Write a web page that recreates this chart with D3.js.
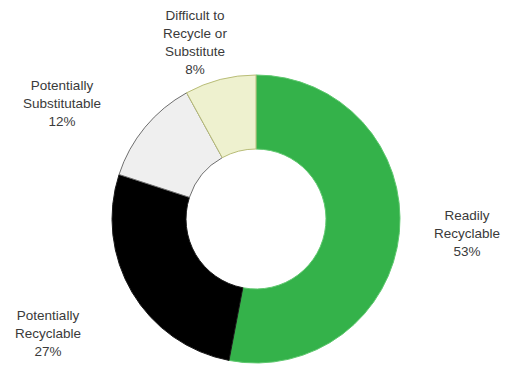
<!DOCTYPE html>
<html>
<head>
<meta charset="utf-8">
<script src="https://cdn.jsdelivr.net/npm/d3@7"></script>
<style>
  html, body { margin: 0; padding: 0; background: #fff; }
  svg { display: block; }
  text { font-family: "Liberation Sans", Arial, sans-serif; font-size: 13.5px; fill: #3a3a3a; }
</style>
</head>
<body>
<svg id="chart" width="506" height="365"></svg>
<script>
// Share of material by end-of-life category (percent)
const categories = ["Readily Recyclable", "Potentially Recyclable", "Potentially Substitutable", "Difficult to Recycle or Substitute"];
const values = [53, 27, 12, 8];
const labelLines = [
  ["Readily", "Recyclable"],
  ["Potentially", "Recyclable"],
  ["Potentially", "Substitutable"],
  ["Difficult to", "Recycle or", "Substitute"]
];
const fills = ["#34b24a", "#000000", "#efefef", "#eef1cf"];
const strokes = ["#5ec86e", "#1a1a1a", "#6f6f6f", "#b9bd78"];

const width = 506, height = 365;
const cx = 256, cy = 219;
const outerR = 144, innerR = 70;

const svg = d3.select("#chart");
const g = svg.append("g").attr("transform", `translate(${cx},${cy})`);

const pie = d3.pie().value(d => d).sort(null);
const arcs = pie(values);
const arc = d3.arc().innerRadius(innerR).outerRadius(outerR);

g.selectAll("path.slice")
  .data(arcs)
  .join("path")
  .attr("class", "slice")
  .attr("d", arc)
  .attr("fill", (d, i) => fills[i])
  .attr("stroke", (d, i) => strokes[i])
  .attr("stroke-width", 1);

// Label anchors (centre of each text block) in page coordinates
const labelPos = [
  { x: 467, y: 220 },
  { x: 48,  y: 320 },
  { x: 62,  y: 90 },
  { x: 195, y: 20 }
];
const lineH = 18;

const labels = svg.selectAll("text.lbl")
  .data(arcs)
  .join("text")
  .attr("class", "lbl")
  .attr("text-anchor", "middle")
  .attr("x", (d, i) => labelPos[i].x)
  .attr("y", (d, i) => labelPos[i].y);

labels.each(function(d, i) {
  const t = d3.select(this);
  const lines = labelLines[i].concat([d.data + "%"]);
  lines.forEach((ln, j) => {
    t.append("tspan")
      .attr("x", labelPos[i].x)
      .attr("dy", j === 0 ? 0 : lineH)
      .text(ln);
  });
});
</script>
</body>
</html>
